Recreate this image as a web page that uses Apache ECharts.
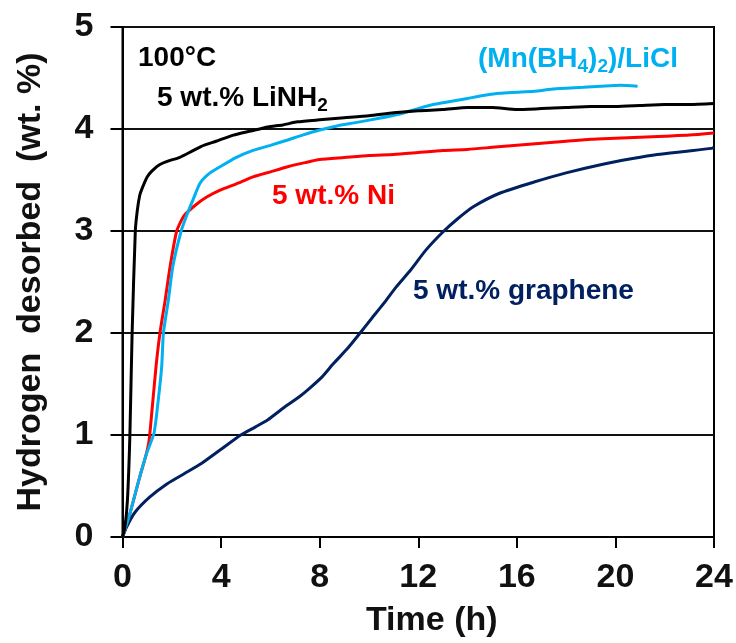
<!DOCTYPE html>
<html>
<head>
<meta charset="utf-8">
<script src="https://cdn.jsdelivr.net/npm/echarts@6/dist/echarts.min.js"></script>
<style>
  html, body { margin: 0; padding: 0; background: #fff; }
  #chart { width: 736px; height: 643px; }
</style>
</head>
<body>
<div id="chart"></div>
<script>
// ---- Data (time in h, hydrogen desorbed in wt.%) ----
const xTicks = [0, 4, 8, 12, 16, 20, 24];
const yTicks = [0, 1, 2, 3, 4, 5];

const liNH2 = [
  [0,0],[0.1,0.1],[0.2,0.36],[0.3,1.0],[0.39,2.0],[0.52,3.0],[0.6,3.2],[0.7,3.35],
  [0.8,3.42],[1.0,3.53],[1.2,3.59],[1.5,3.65],[1.9,3.69],[2.3,3.72],[2.8,3.78],
  [3.2,3.83],[3.8,3.88],[4.5,3.94],[5.2,3.98],[5.9,4.02],[6.5,4.04],[7.1,4.07],
  [8,4.09],[9,4.11],[10,4.13],[11,4.16],[12,4.18],[13,4.19],[14,4.21],[15,4.21],
  [16,4.19],[17,4.2],[18,4.21],[19,4.22],[20,4.22],[21,4.23],[22,4.24],[23,4.24],[24,4.25]
];

const mnBH4 = [
  [0,0],[0.3,0.23],[0.7,0.59],[0.98,0.82],[1.28,1.02],[1.45,1.34],[1.59,1.67],[1.66,2.0],
  [1.86,2.32],[2.04,2.65],[2.38,3.0],[2.6,3.15],[2.85,3.3],[3.15,3.47],[3.5,3.56],
  [3.96,3.63],[4.6,3.72],[5.3,3.79],[6,3.84],[6.67,3.89],[7.3,3.94],[8,3.99],[8.7,4.03],
  [9.4,4.06],[10.3,4.1],[11.3,4.15],[12,4.2],[12.6,4.24],[13.3,4.27],[14,4.3],[14.7,4.33],
  [15.3,4.35],[16,4.36],[16.7,4.37],[17.4,4.39],[18,4.4],[18.7,4.41],[19.4,4.42],
  [20.2,4.43],[20.9,4.42]
];

const ni = [
  [0,0],[0.3,0.23],[0.7,0.59],[0.95,0.8],[1.08,0.95],[1.2,1.25],[1.36,1.67],[1.52,2.0],
  [1.73,2.32],[1.93,2.65],[2.2,3.0],[2.5,3.15],[2.94,3.25],[3.4,3.33],[3.96,3.40],
  [4.6,3.46],[5.3,3.53],[6,3.58],[6.7,3.63],[7.4,3.67],[8,3.7],[9,3.72],[10,3.74],
  [11,3.75],[12,3.77],[13,3.79],[14,3.8],[15,3.82],[16,3.84],[17,3.86],[18,3.88],
  [19,3.9],[20,3.91],[21,3.92],[22,3.93],[23,3.94],[24,3.96]
];

const graphene = [
  [0,0],[0.17,0.1],[0.5,0.24],[1.1,0.39],[1.8,0.52],[2.5,0.62],[3.2,0.72],[4,0.86],
  [4.8,1.0],[5.4,1.08],[5.9,1.15],[6.5,1.26],[7.2,1.38],[7.6,1.46],[8.1,1.57],[8.56,1.70],
  [9.1,1.84],[9.64,2.0],[10.1,2.14],[10.6,2.29],[11.1,2.45],[11.7,2.62],[12.3,2.81],
  [13.0,2.99],[13.6,3.12],[14.25,3.24],[15.3,3.37],[16.7,3.48],[18.0,3.57],[19.4,3.65],
  [20.7,3.71],[21.7,3.75],[22.8,3.78],[23.9,3.81],[24,3.82]
];

const seriesNames = ['5 wt.% graphene', '5 wt.% Ni', '(Mn(BH4)2)/LiCl', '5 wt.% LiNH2'];
const seriesColors = ['#002060', '#ff0000', '#00b0f0', '#000000'];
const seriesData = [graphene, ni, mnBH4, liNH2];

// ---- Chart ----
const FONT = '"Liberation Sans", Arial, Helvetica, sans-serif';
const chart = echarts.init(document.getElementById('chart'), null, { renderer: 'canvas' });

function richStyle(color) {
  return {
    m: { fontFamily: FONT, fontWeight: 'bold', fontSize: 28, lineHeight: 34, fill: color, color: color },
    s: { fontFamily: FONT, fontWeight: 'bold', fontSize: 19, lineHeight: 19, verticalAlign: 'bottom', fill: color, color: color }
  };
}

const option = {
  animation: false,
  backgroundColor: '#ffffff',
  grid: {
    left: 122.5, right: 22, top: 27, bottom: 106,
    show: true, borderColor: '#000', borderWidth: 2, containLabel: false
  },
  xAxis: {
    type: 'value', min: xTicks[0], max: xTicks[xTicks.length - 1], interval: 4,
    name: 'Time (h)', nameLocation: 'middle', nameGap: 67,
    nameTextStyle: { fontFamily: FONT, fontWeight: 'bold', fontSize: 34, color: '#111', padding: [0, 0, 0, 27] },
    axisLine: { show: true, onZero: false, lineStyle: { color: '#000', width: 2 } },
    axisTick: { show: true, inside: false, length: 11, lineStyle: { color: '#000', width: 2 } },
    axisLabel: { fontFamily: FONT, fontWeight: 'bold', fontSize: 34, color: '#111', margin: 24 },
    splitLine: { show: false }
  },
  yAxis: {
    type: 'value', min: yTicks[0], max: yTicks[yTicks.length - 1], interval: 1,
    name: 'Hydrogen  desorbed  (wt. %)', nameLocation: 'middle', nameGap: 75,
    nameTextStyle: { fontFamily: FONT, fontWeight: 'bold', fontSize: 34, color: '#111' },
    axisLine: { show: true, onZero: false, lineStyle: { color: '#000', width: 2 } },
    axisTick: { show: true, inside: false, length: 12, lineStyle: { color: '#000', width: 2 } },
    axisLabel: { fontFamily: FONT, fontWeight: 'bold', fontSize: 34, color: '#111', margin: 29 },
    splitLine: { show: true, lineStyle: { color: '#111', width: 2 } }
  },
  series: seriesData.map((d, i) => ({
    name: seriesNames[i],
    type: 'line',
    data: d,
    showSymbol: false,
    smooth: 0.2,
    lineStyle: { color: seriesColors[i], width: 3 },
    z: 2 + i
  })),
  graphic: [
    { type: 'text', left: 138, top: 44, style: { text: '100°C', fontFamily: FONT, fontWeight: 'bold', fontSize: 28, fill: '#000' } },
    { type: 'text', left: 157, top: 84, style: { text: '{m|5 wt.% LiNH}{s|2}', rich: richStyle('#000000') } },
    { type: 'text', left: 478, top: 45, style: { text: '{m|(Mn(BH}{s|4}{m|)}{s|2}{m|)/LiCl}', rich: richStyle('#00b0f0') } },
    { type: 'text', left: 272, top: 182, style: { text: '5 wt.% Ni', fontFamily: FONT, fontWeight: 'bold', fontSize: 28, fill: '#ff0000' } },
    { type: 'text', left: 413, top: 277, style: { text: '5 wt.% graphene', fontFamily: FONT, fontWeight: 'bold', fontSize: 28, fill: '#002060' } }
  ]
};
chart.setOption(option);
</script>
</body>
</html>
